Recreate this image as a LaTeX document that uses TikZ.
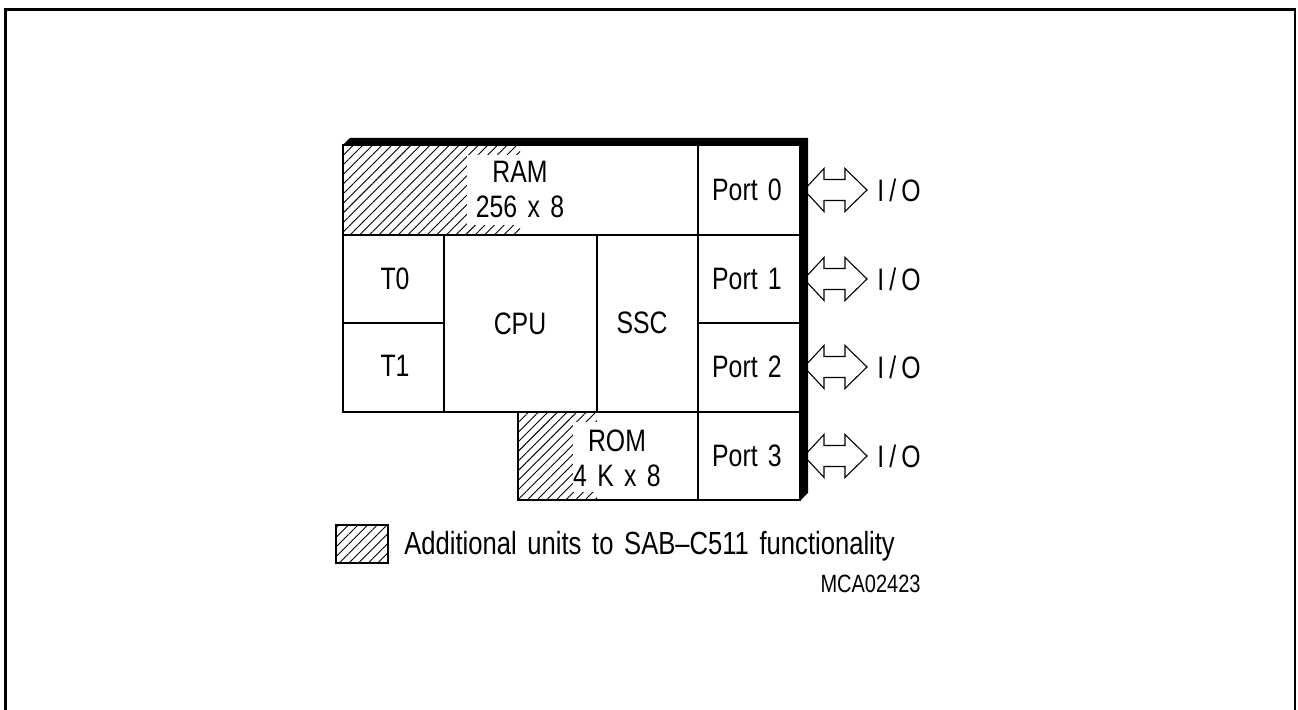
\documentclass[tikz,border=0pt]{standalone}
\usepackage{fontspec}
\setmainfont[FakeStretch=0.8,WordSpace=1.5]{Liberation Sans}
\usetikzlibrary{patterns.meta}
\begin{document}
\begin{tikzpicture}[x=0.5pt,y=-0.5pt,
  cell/.style={draw, line width=1pt},
  lbl/.style={font=\fontsize{15.5}{17.5}\selectfont, inner sep=0pt, align=center},
  hatch/.style={pattern={Lines[angle=45,distance=3.4pt,line width=0.45pt]}},
  ioarrow/.style={draw, line width=0.55pt, line join=miter}]
\useasboundingbox (0,0) rectangle (1298,710);
% outer frame (open at the bottom)
\draw[line width=1.3pt] (5.5,720) -- (5.5,9.5) -- (1295,9.5) -- (1295,720);
% hatched areas
\fill[hatch] (343,145) rectangle (520,235);
\fill[white] (467,155) rectangle (521,225);
\fill[hatch] (518,412) rectangle (597,500);
\fill[white] (573,422) rectangle (598,492);
% cells
\draw[cell] (343,145) rectangle (698,235);
\draw[cell] (698,145) rectangle (800,235);
\draw[cell] (343,235) rectangle (444,323);
\draw[cell] (343,323) rectangle (444,412);
\draw[cell] (444,235) rectangle (597,412);
\draw[cell] (597,235) rectangle (698,412);
\draw[cell] (698,235) rectangle (800,323);
\draw[cell] (698,323) rectangle (800,412);
\draw[cell] (518,412) rectangle (698,500);
\draw[cell] (698,412) rectangle (800,500);
% I/O arrows
\foreach \c/\i in {190/0,279/1,367/2,456/3}{
  \draw[ioarrow] (804,\c) -- (824,\c-21.5) -- (824,\c-10.5) -- (845,\c-10.5) -- (845,\c-21.5)
     -- (867,\c) -- (845,\c+21.5) -- (845,\c+10.5) -- (824,\c+10.5) -- (824,\c+21.5) -- cycle;
  \node[lbl] (io\i) at (899,\c) {I\,/\,O};
}
% shadow edge
\fill (343,145) -- (350,138) -- (808,138) -- (808,493) -- (801,500) -- (801,145) -- cycle;
% labels
\node[lbl] (ram) at (520,189) {RAM\\256 x 8};
\node[lbl] (t0) at (395,279) {T0};
\node[lbl] (t1) at (395,366) {T1};
\node[lbl] (cpu) at (520,324) {CPU};
\node[lbl] (ssc) at (642,323) {SSC};
\node[lbl] (p0) at (747,190) {Port 0};
\node[lbl] (p1) at (747,279) {Port 1};
\node[lbl] (p2) at (747,367) {Port 2};
\node[lbl] (p3) at (747,456) {Port 3};
\node[lbl] (rom) at (617,458) {ROM\\4 K x 8};
% legend
\fill[hatch] (336,525) rectangle (388,563);
\draw[line width=1.3pt] (336,525) rectangle (388,563);
\node[lbl, font=\fontsize{16}{18}\selectfont, anchor=west] (leg) at (404,546) {Additional units to SAB–C511 functionality};
\node[lbl, font=\fontsize{12.5}{14}\selectfont, anchor=east] (id) at (921,584) {MCA02423};
\end{tikzpicture}
\end{document}
